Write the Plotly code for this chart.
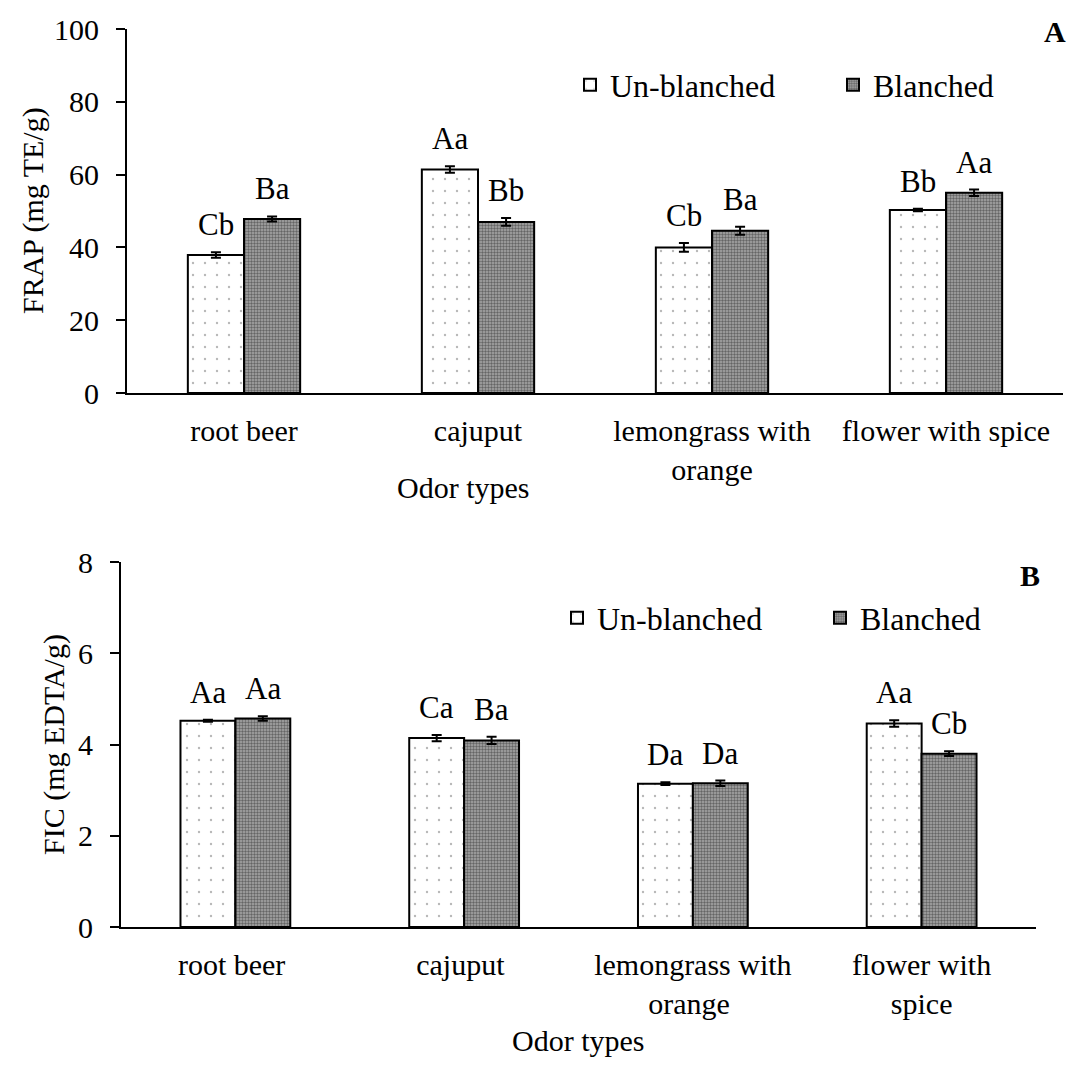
import plotly.graph_objects as go

# ---------------- data ----------------
cats_a = ["root beer", "cajuput", "lemongrass with<br>orange", "flower with spice"]
cats_b = ["root beer ", "cajuput ", "lemongrass with<br>orange ", "flower with<br>spice"]

frap_unbl = [37.9, 61.4, 40.0, 50.3]
frap_unbl_err = [0.75, 0.9, 1.2, 0.35]
frap_bl = [47.8, 47.0, 44.6, 55.0]
frap_bl_err = [0.7, 1.05, 1.1, 0.9]
frap_lab_unbl = ["Cb", "Aa", "Cb", "Bb"]
frap_lab_bl = ["Ba", "Bb", "Ba", "Aa"]

fic_unbl = [4.52, 4.14, 3.14, 4.46]
fic_unbl_err = [0.02, 0.07, 0.03, 0.07]
fic_bl = [4.57, 4.09, 3.15, 3.80]
fic_bl_err = [0.05, 0.08, 0.06, 0.05]
fic_lab_unbl = ["Aa", "Ca", "Da", "Aa"]
fic_lab_bl = ["Aa", "Ba", "Da", "Cb"]

series_names = ["Un-blanched", "Blanched"]

W, H = 1073, 1066
FONT = "Liberation Serif"
FS = 30
BARGAP = 0.52

fig = go.Figure()

unbl_pattern = dict(shape=".", fgcolor="#707070", bgcolor="white", size=12, solidity=0.03, fillmode="overlay")
bl_pattern = dict(shape=".", fgcolor="#222222", bgcolor="#a8a8a8", size=3, solidity=0.5, fillmode="overlay")

def add_panel(cats, unbl, unbl_err, bl, bl_err, xa, ya, legend):
    fig.add_trace(go.Bar(
        x=cats, y=unbl, name=series_names[0], xaxis=xa, yaxis=ya, legend=legend,
        marker=dict(color="white", line=dict(color="black", width=2), pattern=unbl_pattern),
        error_y=dict(type="data", array=unbl_err, color="black", thickness=2, width=5),
    ))
    fig.add_trace(go.Bar(
        x=cats, y=bl, name=series_names[1], xaxis=xa, yaxis=ya, legend=legend,
        marker=dict(color="#a8a8a8", line=dict(color="black", width=2), pattern=bl_pattern),
        error_y=dict(type="data", array=bl_err, color="black", thickness=2, width=5),
    ))

add_panel(cats_a, frap_unbl, frap_unbl_err, frap_bl, frap_bl_err, "x", "y", "legend")
add_panel(cats_b, fic_unbl, fic_unbl_err, fic_bl, fic_bl_err, "x2", "y2", "legend2")

# letters above bars
half = (1 - BARGAP) / 4.0
annotations = []
def add_letters(vals, errs, labs, offset, xref, yref):
    for i, (v, e, t) in enumerate(zip(vals, errs, labs)):
        annotations.append(dict(
            x=i + offset, y=v + e, xref=xref, yref=yref, text=t, showarrow=False,
            yanchor="bottom", yshift=8, font=dict(family=FONT, size=31, color="black")))

add_letters(frap_unbl, frap_unbl_err, frap_lab_unbl, -half, "x", "y")
add_letters(frap_bl, frap_bl_err, frap_lab_bl, half, "x", "y")
add_letters(fic_unbl, fic_unbl_err, fic_lab_unbl, -half, "x2", "y2")
add_letters(fic_bl, fic_bl_err, fic_lab_bl, half, "x2", "y2")

def txt(x, y, t, angle=0, bold=False):
    annotations.append(dict(
        x=x / W, y=1 - y / H, xref="paper", yref="paper", text=("<b>%s</b>" % t if bold else t),
        showarrow=False, textangle=angle, xanchor="center", yanchor="middle",
        font=dict(family=FONT, size=FS, color="black")))

txt(463, 487, "Odor types")
txt(578, 1040, "Odor types")
txt(33, 211, "FRAP (mg TE/g)", angle=-90)
txt(54, 745, "FIC (mg EDTA/g)", angle=-90)
txt(1055, 32, "A", bold=True)
txt(1030, 575, "B", bold=True)

axis_common = dict(showgrid=False, zeroline=False, showline=True, linecolor="black", linewidth=2,
                   automargin=False, tickfont=dict(family=FONT, size=FS, color="black"))

LEG_FONT = dict(family=FONT, size=32, color="black")

fig.update_layout(
    width=W, height=H, autosize=False,
    margin=dict(l=0, r=0, t=0, b=0, autoexpand=False),
    paper_bgcolor="white", plot_bgcolor="white",
    barmode="group", bargap=BARGAP, bargroupgap=0,
    font=dict(family=FONT, size=FS, color="black"),
    xaxis=dict(domain=[127 / W, 1063 / W], anchor="y", ticks="", ticklabelstandoff=10, **axis_common),
    yaxis=dict(domain=[1 - 393 / H, 1 - 29 / H], anchor="x", range=[0, 100], dtick=20,
               ticks="outside", ticklen=9, tickwidth=2, tickcolor="black", ticklabelstandoff=11, **axis_common),
    xaxis2=dict(domain=[121 / W, 1036 / W], anchor="y2", ticks="", ticklabelstandoff=10, **axis_common),
    yaxis2=dict(domain=[1 - 927 / H, 1 - 562 / H], anchor="x2", range=[0, 8], dtick=2,
                ticks="outside", ticklen=9, tickwidth=2, tickcolor="black", ticklabelstandoff=11, **axis_common),
    legend=dict(orientation="h", x=570 / W, y=1 - 85 / H, xanchor="left", yanchor="middle",
                entrywidth=218, entrywidthmode="pixels", bgcolor="rgba(0,0,0,0)", font=LEG_FONT),
    legend2=dict(orientation="h", x=557 / W, y=1 - 618 / H, xanchor="left", yanchor="middle",
                 entrywidth=218, entrywidthmode="pixels", bgcolor="rgba(0,0,0,0)", font=LEG_FONT),
    annotations=annotations,
    showlegend=True,
)

fig.write_html("out.html")
